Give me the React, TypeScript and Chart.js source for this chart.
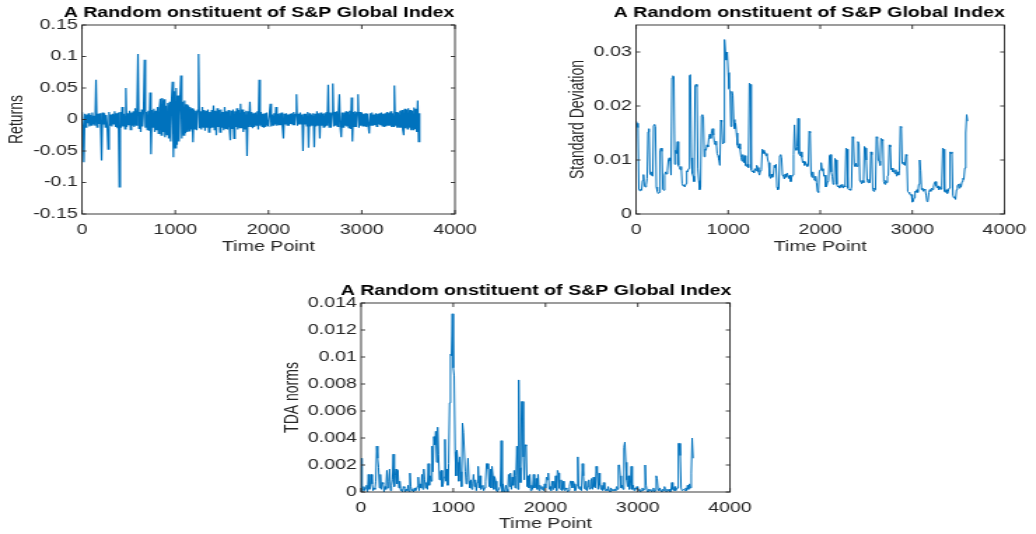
import React, { useEffect, useRef } from 'react';
import { Chart, registerables } from 'chart.js';

Chart.register(...registerables);

// ---------------- data ----------------
const CHART_TITLE = 'A Random onstituent of S&P Global Index';
const X_LABEL = 'Time Point';
const X_TICKS = [0, 1000, 2000, 3000, 4000];
const X_TICK_LABELS = ['0', '1000', '2000', '3000', '4000'];

// daily returns, one value every 10 time points (t = 0 .. 3620)
const RETURNS_STEP = 10;
const RETURNS = [
  .012,-.01,-.068,.009,-.012,.008,-.006,.01,-.011,.007,-.009,.011,-.008,.006,-.01,.063,-.012,.009,-.007,.01,
  -.009,-.065,.011,-.008,.01,-.012,.007,-.009,-.047,.012,-.01,.008,-.011,.009,-.007,.013,-.012,.01,-.014,.011,
  -.107,.012,-.013,.02,-.011,.009,-.015,.05,-.012,.01,-.009,.014,-.016,.011,-.01,.013,-.012,.018,-.009,.011,
  .104,-.014,.012,-.02,.016,-.011,.015,.095,-.013,.012,-.016,.014,-.018,.043,-.055,.015,-.012,.017,-.02,.014,
  -.017,.02,-.022,.018,.033,-.025,.034,-.02,.032,-.028,.022,-.024,.026,-.03,.028,-.035,.03,.06,-.06,.045,
  -.045,.05,-.04,.038,-.035,.03,.07,-.03,.028,-.025,.03,-.022,.024,-.02,.022,-.018,.02,-.016,.018,-.036,
  .016,-.015,.014,-.017,.015,.104,-.014,.013,-.016,.02,-.012,.015,-.018,.014,-.013,.016,-.02,.012,-.014,.015,
  -.013,.022,-.016,.014,-.025,.018,-.012,.015,-.02,.016,-.013,.012,-.017,.02,-.014,.013,-.016,.015,-.012,-.033,
  .014,-.015,.016,-.03,.013,-.012,.018,-.016,.015,-.013,.025,-.014,.016,-.02,.012,-.015,.014,-.058,.013,-.012,
  .028,-.011,.012,-.014,.01,-.012,.011,-.009,.013,-.016,.063,-.01,.012,-.011,.009,-.013,.01,-.012,.011,-.009,
  -.01,.009,.025,-.011,.008,-.009,.01,-.008,.02,-.01,.009,-.008,.01,-.009,.011,-.012,-.03,.009,-.008,.01,
  -.009,.008,-.01,.009,-.007,.01,-.008,.012,-.009,.008,.04,-.01,.009,-.008,.011,-.007,.008,-.05,.009,-.008,
  .009,-.01,.012,-.045,.01,-.011,.008,-.009,.01,-.044,.009,-.011,.013,-.009,.01,-.03,.011,-.01,.009,-.012,
  .01,-.011,.012,-.01,.055,-.012,.011,-.013,.01,.057,-.011,.012,-.01,.013,-.011,.012,.04,-.012,-.028,.011,
  -.012,.011,-.01,.013,-.011,.012,-.013,.014,-.015,.035,-.035,.012,-.011,.013,-.012,.011,.04,-.013,.012,-.01,
  .011,-.01,.009,-.011,.01,-.012,.009,-.01,-.022,.01,-.009,.011,-.01,.008,-.009,.01,-.011,.009,-.008,.01,
  -.009,.011,-.01,.009,-.012,.01,-.011,.012,-.009,.011,-.01,.013,-.012,.01,-.011,.054,-.01,.012,-.013,.011,
  -.012,.014,-.013,.015,-.016,-.025,.017,-.014,.016,-.015,.018,-.013,.015,-.017,.014,-.016,.019,-.015,.017,-.02,
  .03,-.035,.01,
];
const RETURNS_TICKS = [-0.15, -0.1, -0.05, 0, 0.05, 0.1, 0.15];
const RETURNS_TICK_LABELS = ['-0.15', '-0.1', '-0.05', '0', '0.05', '0.1', '0.15'];

// rolling standard deviation, one value every 10 time points (t = 0 .. 3600)
const STD_STEP = 10;
const STD_DEV = [
  .0172,.0168,.0160,.0045,.0043,.0046,.0044,.0062,.0073,.0052,.0050,.0054,.0066,.0152,.0158,.0076,.0072,.0078,.0070,.0164,
  .0166,.0162,.0050,.0042,.0038,.0040,.0118,.0122,.0116,.0046,.0044,.0072,.0078,.0074,.0080,.0100,.0104,.0098,.0072,.0252,
  .0256,.0254,.0092,.0118,.0112,.0134,.0090,.0086,.0082,.0088,.0056,.0052,.0054,.0050,.0056,.0080,.0078,.0084,.0256,.0258,
  .0104,.0075,.0070,.0060,.0238,.0240,.0236,.0085,.0062,.0045,.0050,.0182,.0184,.0180,.0106,.0120,.0118,.0128,.0124,.0142,
  .0148,.0140,.0152,.0158,.0146,.0132,.0128,.0135,.0112,.0108,.0100,.0090,.0174,.0170,.0130,.0132,.0323,.0300,.0285,.0300,
  .0262,.0232,.0228,.0162,.0227,.0220,.0175,.0158,.0168,.0150,.0128,.0122,.0130,.0120,.0105,.0098,.0110,.0095,.0108,.0090,
  .0088,.0092,.0086,.0242,.0240,.0082,.0078,.0080,.0076,.0084,.0080,.0090,.0086,.0078,.0072,.0080,.0082,.0120,.0118,.0112,
  .0115,.0108,.0112,.0100,.0095,.0070,.0066,.0074,.0068,.0072,.0090,.0086,.0092,.0050,.0045,.0048,.0108,.0110,.0104,.0072,
  .0070,.0065,.0074,.0068,.0076,.0070,.0066,.0072,.0060,.0068,.0072,.0110,.0165,.0122,.0118,.0125,.0177,.0112,.0108,.0115,
  .0105,.0095,.0098,.0090,.0096,.0092,.0088,.0090,.0153,.0150,.0074,.0068,.0078,.0066,.0062,.0070,.0058,.0042,.0040,.0078,
  .0082,.0095,.0080,.0084,.0070,.0072,.0050,.0052,.0060,.0062,.0108,.0110,.0078,.0070,.0055,.0058,.0103,.0100,.0055,.0050,
  .0052,.0048,.0054,.0050,.0055,.0048,.0052,.0050,.0122,.0120,.0048,.0045,.0046,.0044,.0050,.0143,.0140,.0092,.0088,.0094,
  .0088,.0134,.0130,.0062,.0060,.0056,.0062,.0058,.0125,.0122,.0100,.0062,.0058,.0064,.0058,.0115,.0110,.0045,.0042,.0048,
  .0045,.0143,.0140,.0100,.0098,.0090,.0140,.0138,.0135,.0060,.0055,.0062,.0058,.0070,.0072,.0128,.0124,.0082,.0085,.0078,
  .0080,.0075,.0082,.0070,.0078,.0072,.0080,.0162,.0160,.0094,.0092,.0096,.0090,.0110,.0108,.0042,.0040,.0038,.0035,.0036,
  .0022,.0024,.0030,.0042,.0040,.0045,.0040,.0055,.0100,.0080,.0045,.0048,.0042,.0046,.0044,.0035,.0023,.0025,.0040,.0045,
  .0042,.0048,.0045,.0050,.0058,.0060,.0052,.0048,.0052,.0045,.0050,.0046,.0052,.0122,.0120,.0042,.0040,.0045,.0038,.0042,
  .0048,.0115,.0112,.0115,.0035,.0030,.0032,.0027,.0045,.0052,.0055,.0048,.0056,.0050,.0060,.0066,.0064,.0085,.0150,.0184,
  .0172,
];
const STD_TICKS = [0, 0.01, 0.02, 0.03];
const STD_TICK_LABELS = ['0', '0.01', '0.02', '0.03'];

// TDA norms, one value every 10 time points (t = 0 .. 3600)
const TDA_STEP = 10;
const TDA_NORMS = [
  .0025,0,.0002,.0004,.0001,.0003,.0005,0,.0013,.0002,.0004,.0013,.0006,.0001,.0003,.0002,.0008,.0034,.0025,.0018,
  .0003,.0013,.0002,.0007,.0006,0,.0004,.0002,.0016,.0003,.0008,.0017,.0001,.0005,.0009,.0028,.0004,.0012,.0017,.0006,
  .0016,.0003,.0008,.0001,.0002,0,.0004,.0003,0,.0002,.0001,.0005,0,.0014,.0004,.0001,.0002,0,.0003,.0001,
  .0002,.0004,.0011,.0001,.0006,.0003,.0013,.0002,.0017,.0009,.0003,.0007,.0002,.0021,.0005,.0012,.0008,.0034,.0015,.0041,
  .0035,.0045,.0022,.0048,.0028,.0009,.0015,.0016,.0004,.0006,.0011,.0039,.0008,.0017,.0005,.0021,.0066,.0102,.0101,.0132,
  .0092,.0086,.0030,.0012,.0031,.0022,.0008,.0026,.0015,.0004,.0051,.0044,.0044,.0015,.0006,.0011,.0025,.0008,.0003,.0009,
  .0002,.0006,.0013,.0004,.0009,.0001,.0007,.0019,.0003,.0012,.0002,.0004,.0005,.0001,.0003,.0008,.0021,.0021,.0017,.0004,
  .0017,.0003,.0019,.0012,.0002,.0011,.0008,.0001,0,.0002,.0003,.0004,.0038,0,.0006,.0001,0,.0005,.0002,0,
  .0013,.0004,.0014,.0002,.0011,.0005,.0016,.0003,.0012,.0034,.0002,.0083,.0018,.0007,.0067,.0067,.0026,.0009,.0035,.0034,
  .0004,.0012,.0003,.0013,.0001,.0005,.0002,.0013,.0003,.0004,.0010,.0002,.0013,.0001,.0005,.0003,.0002,.0004,.0001,.0006,
  .0003,.0011,.0009,.0014,.0002,.0004,.0001,.0008,.0002,.0008,.0003,.0012,.0001,.0016,.0014,.0003,.0002,.0009,.0001,.0008,
  .0002,.0001,.0003,.0002,0,.0001,.0004,.0008,.0008,.0003,.0008,.0006,.0001,.0002,.0005,.0026,.0003,.0002,.0004,.0001,
  .0021,.0012,.0003,.0002,.0008,.0001,.0004,.0009,.0002,.0003,.0010,.0002,.0011,.0004,.0003,.0019,.0014,.0002,.0014,.0005,
  .0002,.0005,.0001,.0007,.0002,.0001,.0002,.0001,.0004,.0001,0,.0003,.0001,.0002,.0001,.0002,.0001,.0004,.0002,.0020,
  .0020,.0012,.0003,.0005,.0002,.0033,.0037,.0022,.0009,.0004,.0012,.0002,.0006,.0019,.0002,.0005,.0001,.0003,.0002,.0004,
  .0003,.0001,.0002,0,.0001,.0003,.0001,.0002,.0020,.0005,.0001,0,.0002,.0001,.0002,0,.0001,.0003,0,.0001,
  .0012,.0010,.0002,.0001,.0003,.0001,0,.0002,.0001,.0004,.0001,0,.0002,.0001,.0002,0,.0001,.0007,.0002,.0001,
  .0004,.0001,.0002,.0003,.0036,.0036,.0027,.0003,.0001,.0001,.0002,.0001,.0003,.0001,.0005,.0002,.0006,.0003,.0014,.0040,
  .0025,
];
const TDA_TICKS = [0, 0.002, 0.004, 0.006, 0.008, 0.01, 0.012, 0.014];
const TDA_TICK_LABELS = ['0', '0.002', '0.004', '0.006', '0.008', '0.01', '0.012', '0.014'];

// ---------------- layout / style ----------------
const SX = 1.4; // horizontal stretch of the rendered figure
const FONT = '"Liberation Sans", Helvetica, Arial, sans-serif';
const AXIS_COLOR = '#262626';
const LINE_COLOR = '#0072BD';

type Panel = {
  yLabel: string; values: number[]; step: number; yMin: number; yMax: number;
  ticks: number[]; tickLabels: string[]; lineWidth: number;
  cLeft: number; cTop: number; cWi: number; cH: number;
  pL: number; pT: number; pR: number; pB: number;
  yTitleX: number; titleX: number; titleY: number; xTitleY: number;
};

const PANELS: Panel[] = [
  { yLabel: 'Returns', values: RETURNS, step: RETURNS_STEP, yMin: -0.15, yMax: 0.15,
    ticks: RETURNS_TICKS, tickLabels: RETURNS_TICK_LABELS, lineWidth: 1.2,
    cLeft: 0, cTop: 0, cWi: 350, cH: 262, pL: 82, pT: 25, pR: 455, pB: 214,
    yTitleX: 17, titleX: 259, titleY: 13.5, xTitleY: 247 },
  { yLabel: 'Standard Deviation', values: STD_DEV, step: STD_STEP, yMin: 0, yMax: 0.035,
    ticks: STD_TICKS, tickLabels: STD_TICK_LABELS, lineWidth: 1,
    cLeft: 540, cTop: 0, cWi: 354, cH: 262, pL: 636, pT: 25, pR: 1004, pB: 214,
    yTitleX: 578, titleX: 809, titleY: 13.5, xTitleY: 247 },
  { yLabel: 'TDA norms', values: TDA_NORMS, step: TDA_STEP, yMin: 0, yMax: 0.014,
    ticks: TDA_TICKS, tickLabels: TDA_TICK_LABELS, lineWidth: 1,
    cLeft: 270, cTop: 265, cWi: 350, cH: 269, pL: 361, pT: 303, pR: 730, pB: 492,
    yTitleX: 292.5, titleX: 536, titleY: 291.5, xTitleY: 524 },
];

const framePlugin = {
  id: 'frame',
  afterDraw(chart: any, _args: any, opts: any) {
    const { ctx, chartArea } = chart;
    const { left, top, right, bottom } = chartArea;
    ctx.save();
    ctx.strokeStyle = AXIS_COLOR;
    ctx.lineWidth = 0.9;
    ctx.strokeRect(left, top, right - left, bottom - top);
    const xs = chart.scales.x;
    const ys = chart.scales.y;
    ctx.beginPath();
    for (const t of xs.ticks) {
      const px = xs.getPixelForValue(t.value);
      ctx.moveTo(px, bottom); ctx.lineTo(px, bottom - 4);
      ctx.moveTo(px, top); ctx.lineTo(px, top + 4);
    }
    for (const t of ys.ticks) {
      const py = ys.getPixelForValue(t.value);
      ctx.moveTo(left, py); ctx.lineTo(left + 3, py);
      ctx.moveTo(right, py); ctx.lineTo(right - 3, py);
    }
    ctx.stroke();
    ctx.fillStyle = '#000';
    ctx.font = `bold 14px ${FONT}`;
    ctx.textAlign = 'center';
    ctx.textBaseline = 'middle';
    ctx.fillText(opts.text, opts.x, opts.y);
    ctx.restore();
  },
};

function buildChart(canvas: HTMLCanvasElement, p: Panel) {
  const yAxisWidth = (p.pL - p.cLeft) / SX;
  const padRight = p.cWi - (p.pR - p.cLeft) / SX;
  const padTop = p.pT - p.cTop;
  const xAxisHeight = p.cH - (p.pB - p.cTop);
  const titleLine = 14 * 1.2;
  const points = p.values.map((v, i) => ({ x: i * p.step, y: v }));
  return new Chart(canvas, {
    type: 'line',
    data: {
      datasets: [{
        data: points, borderColor: LINE_COLOR, borderWidth: p.lineWidth,
        pointRadius: 0, tension: 0, fill: false,
      }],
    },
    options: {
      responsive: false,
      devicePixelRatio: 1,
      animation: false,
      events: [],
      layout: { padding: { left: 0, top: padTop, right: padRight, bottom: 0 } },
      plugins: {
        legend: { display: false },
        tooltip: { enabled: false },
        title: { display: false },
        frame: { text: CHART_TITLE, x: (p.titleX - p.cLeft) / SX, y: p.titleY - p.cTop },
      } as any,
      scales: {
        x: {
          type: 'linear', min: 0, max: 4000,
          grid: { display: false, drawTicks: false },
          border: { display: false },
          afterBuildTicks: (s: any) => { s.ticks = X_TICKS.map((v) => ({ value: v })); },
          afterFit: (s: any) => { s.height = xAxisHeight; s.paddingLeft = 0; s.paddingRight = 0; },
          ticks: {
            autoSkip: false, maxRotation: 0, padding: 8, color: AXIS_COLOR,
            font: { family: FONT, size: 14 },
            callback: (_v: any, i: number) => X_TICK_LABELS[i],
          },
          title: {
            display: true, text: X_LABEL, color: AXIS_COLOR,
            font: { family: FONT, size: 14 },
            padding: { top: 0, bottom: p.cH - (p.xTitleY - p.cTop) - titleLine / 2 },
          },
        },
        y: {
          type: 'linear', min: p.yMin, max: p.yMax,
          grid: { display: false, drawTicks: false },
          border: { display: false },
          afterBuildTicks: (s: any) => { s.ticks = p.ticks.map((v) => ({ value: v })); },
          afterFit: (s: any) => { s.width = yAxisWidth; s.paddingTop = 0; s.paddingBottom = 0; },
          ticks: {
            autoSkip: false, padding: 3, color: AXIS_COLOR,
            font: { family: FONT, size: 14 },
            callback: (_v: any, i: number) => p.tickLabels[i],
          },
          title: {
            display: true, text: p.yLabel, color: AXIS_COLOR,
            font: { family: FONT, size: 14 },
            padding: { top: (p.yTitleX - p.cLeft) / SX - titleLine / 2, bottom: 0 },
          },
        },
      },
    } as any,
    plugins: [framePlugin],
  });
}

export default function App() {
  const refs = useRef<(HTMLCanvasElement | null)[]>([]);
  useEffect(() => {
    const charts = PANELS.map((p, i) => buildChart(refs.current[i] as HTMLCanvasElement, p));
    return () => charts.forEach((c) => c.destroy());
  }, []);
  return (
    <div style={{ position: 'absolute', left: 0, top: 0, width: 1036, height: 534, background: '#fff', overflow: 'hidden' }}>
      {PANELS.map((p, i) => (
        <canvas
          key={i}
          ref={(el) => { refs.current[i] = el; }}
          width={p.cWi}
          height={p.cH}
          style={{ position: 'absolute', left: p.cLeft, top: p.cTop, width: p.cWi * SX, height: p.cH }}
        />
      ))}
    </div>
  );
}
